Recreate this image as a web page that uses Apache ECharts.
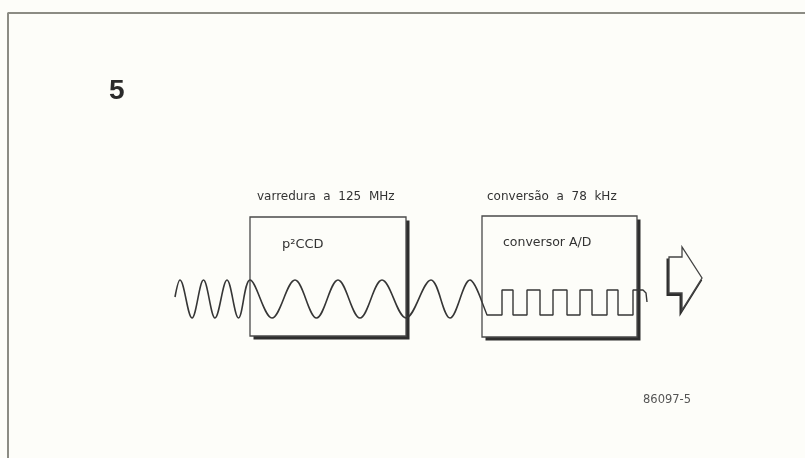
<!DOCTYPE html>
<html>
<head>
<meta charset="utf-8">
<script src="https://cdn.jsdelivr.net/npm/echarts@6/dist/echarts.min.js"></script>
<style>
html,body{margin:0;padding:0;background:#fdfdf9;}
#c{width:805px;height:458px;}
</style>
</head>
<body>
<div id="c"></div>
<script>
// ---- data (diagram units = pixels of the reference) ----
const frameX = [8, 8, 805];
const frameY = [458, 13, 13];

// incoming sine signal: start, peaks and troughs, end
const sineX = [175, 180, 192, 203.5, 215, 227, 238.5, 250,
               272, 295, 316.5, 338, 360, 382, 406, 431, 450, 470, 482];
const sineY = [297, 280, 318, 280, 318, 280, 318, 280,
               318, 280, 318, 280, 318, 280, 318, 280, 318, 280, 302];

// digital (square) output of the A/D converter
const squareX = [482, 487, 502, 502, 513, 513, 527, 527, 540, 540, 553, 553, 567, 567, 580, 580,
                 592, 592, 607, 607, 618, 618, 633, 633, 643, 646, 647];
const squareY = [302, 315, 315, 290, 290, 315, 315, 290, 290, 315, 315, 290, 290, 315, 315, 290,
                 290, 315, 315, 290, 290, 315, 315, 290, 290, 293, 302];

// blocks: [left, top, right, bottom]
const blockLeft = [250, 482];
const blockTop = [217, 216];
const blockRight = [406, 637];
const blockBottom = [336, 337];

// output arrow outline
const arrowX = [669, 682, 682, 702, 682, 682, 669];
const arrowY = [257, 257, 247, 278, 310, 293, 293];

const figNumber = '5';
const blockTitles = ['varredura  a  125  MHz', 'conversão  a  78  kHz'];
const blockNames = ['p²CCD', 'conversor A/D'];
const figCode = '86097-5';

// ---- build ----
const zip = (xs, ys) => xs.map((x, i) => [x, ys[i]]);
const ink = '#363636';

const chart = echarts.init(document.getElementById('c'), null, {renderer: 'canvas'});
chart.setOption({
  backgroundColor: '#fdfdf9',
  animation: false,
  grid: {left: 0, right: 0, top: 0, bottom: 0},
  xAxis: {type: 'value', min: 0, max: 805, show: false},
  yAxis: {type: 'value', min: 0, max: 458, inverse: true, show: false},
  series: [
    {
      type: 'line', data: zip(frameX, frameY), symbol: 'none', silent: true,
      lineStyle: {color: '#8c8c84', width: 2}
    },
    {
      type: 'custom', clip: false, silent: true,
      data: blockLeft.map((l, i) => [l, blockTop[i], blockRight[i], blockBottom[i]]),
      renderItem: function (params, api) {
        const p0 = api.coord([api.value(0), api.value(1)]);
        const p1 = api.coord([api.value(2), api.value(3)]);
        const s = 3.5;
        return {
          type: 'group',
          children: [
            {
              type: 'polygon',
              shape: {points: [[p1[0], p0[1] + s], [p1[0] + s, p0[1] + s], [p1[0] + s, p1[1] + s],
                               [p0[0] + s, p1[1] + s], [p0[0] + s, p1[1]], [p1[0], p1[1]]]},
              style: {fill: '#2e2e2e'}
            },
            {
              type: 'rect',
              shape: {x: p0[0], y: p0[1], width: p1[0] - p0[0], height: p1[1] - p0[1]},
              style: {fill: 'none', stroke: '#4a4a4a', lineWidth: 1.3}
            }
          ]
        };
      }
    },
    {
      type: 'line', data: zip(sineX, sineY), symbol: 'none', smooth: 0.36, silent: true,
      lineStyle: {color: ink, width: 1.6}, z: 3
    },
    {
      type: 'line', data: zip(squareX, squareY), symbol: 'none', silent: true,
      lineStyle: {color: ink, width: 1.4}, z: 3
    },
    {
      type: 'custom', clip: false, silent: true,
      data: [0],
      renderItem: function (params, api) {
        const pts = arrowX.map((x, i) => api.coord([x, arrowY[i]]));
        // shadow along left side, body bottom and lower head edge
        const sh = [pts[0], pts[6], pts[5], pts[4], pts[3]].map(p => [p[0] - 1, p[1] + 1.5]);
        return {
          type: 'group',
          children: [
            {type: 'polyline', shape: {points: sh}, style: {fill: 'none', stroke: '#2e2e2e', lineWidth: 3}},
            {type: 'polygon', shape: {points: pts}, style: {fill: '#fdfdf9', stroke: '#444', lineWidth: 1.3}}
          ]
        };
      }
    }
  ],
  graphic: [
    {type: 'text', left: 109, top: 77, style: {text: figNumber, font: 'bold 28px "Liberation Sans", Arial, sans-serif', fill: '#2a2a2a'}},
    {type: 'text', x: 257, y: 197, style: {text: blockTitles[0], font: '12px "DejaVu Sans", sans-serif', fill: '#333', verticalAlign: 'middle'}},
    {type: 'text', x: 487, y: 197, style: {text: blockTitles[1], font: '12px "DejaVu Sans", sans-serif', fill: '#333', verticalAlign: 'middle'}},
    {type: 'text', x: 282, y: 245, style: {text: blockNames[0], font: '13px "DejaVu Sans", sans-serif', fill: '#333', verticalAlign: 'middle'}},
    {type: 'text', x: 503, y: 243, style: {text: blockNames[1], font: '12.5px "DejaVu Sans", sans-serif', fill: '#333', verticalAlign: 'middle'}},
    {type: 'text', x: 643, y: 400, style: {text: figCode, font: '11.5px "DejaVu Sans", sans-serif', fill: '#555', verticalAlign: 'middle'}}
  ]
});
</script>
</body>
</html>
